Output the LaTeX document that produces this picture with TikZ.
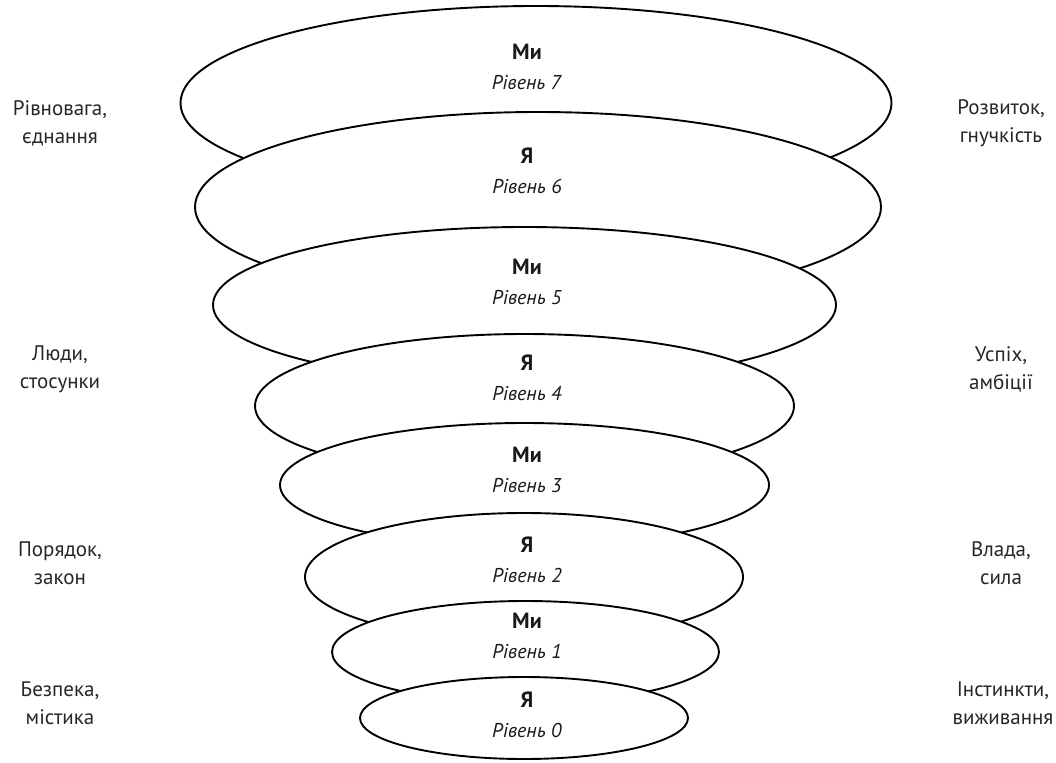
\documentclass[tikz,border=0pt]{standalone}
\usepackage{fontspec}
\setmainfont{PT Sans}
\begin{document}
\begin{tikzpicture}[x=1pt,y=-1pt,
  ring/.style={draw=black, fill=white, line width=1.9pt},
  lvl/.style={align=center, font=\fontsize{20}{30}\selectfont, inner sep=0pt, text=black!90},
  side/.style={align=center, font=\fontsize{21}{28}\selectfont, inner sep=0pt, text=black!85}]
\useasboundingbox (0,0) rectangle (1056,762);
% rings, drawn top to bottom so each lower one covers the one above
\draw[ring] (536,103) ellipse [x radius=355.5pt, y radius=97pt];
\node[lvl] (t7) at (527,67) {{\fontsize{22}{30}\selectfont\bfseries Ми}\\\textit{Рівень 7}};
\draw[ring] (538,207) ellipse [x radius=343pt, y radius=95pt];
\node[lvl] (t6) at (527,171) {{\fontsize{22}{30}\selectfont\bfseries Я}\\\textit{Рівень 6}};
\draw[ring] (524.5,305) ellipse [x radius=311.5pt, y radius=78pt];
\node[lvl] (t5) at (527,282) {{\fontsize{22}{30}\selectfont\bfseries Ми}\\\textit{Рівень 5}};
\draw[ring] (524.5,406) ellipse [x radius=269.5pt, y radius=72pt];
\node[lvl] (t4) at (527,378) {{\fontsize{22}{30}\selectfont\bfseries Я}\\\textit{Рівень 4}};
\draw[ring] (524.5,485) ellipse [x radius=244.5pt, y radius=62pt];
\node[lvl] (t3) at (527,470) {{\fontsize{22}{30}\selectfont\bfseries Ми}\\\textit{Рівень 3}};
\draw[ring] (524,577) ellipse [x radius=219pt, y radius=64pt];
\node[lvl] (t2) at (527,560) {{\fontsize{22}{30}\selectfont\bfseries Я}\\\textit{Рівень 2}};
\draw[ring] (525.5,652) ellipse [x radius=193.5pt, y radius=51pt];
\node[lvl] (t1) at (527,636) {{\fontsize{22}{30}\selectfont\bfseries Ми}\\\textit{Рівень 1}};
\draw[ring] (524,718) ellipse [x radius=164pt, y radius=41pt];
\node[lvl] (t0) at (527,715) {{\fontsize{22}{30}\selectfont\bfseries Я}\\\textit{Рівень 0}};
% side labels
\node[side] (l1) at (60,123) {Рівновага,\\єднання};
\node[side] (r1) at (1001,123) {Розвиток,\\гнучкість};
\node[side] (l2) at (60,369) {Люди,\\стосунки};
\node[side] (r2) at (1001,369) {Успіх,\\амбіції};
\node[side] (l3) at (60,563) {Порядок,\\закон};
\node[side] (r3) at (1001,563) {Влада,\\сила};
\node[side] (l4) at (60,703) {Безпека,\\містика};
\node[side] (r4) at (1003,703) {Інстинкти,\\виживання};
\end{tikzpicture}
\end{document}
